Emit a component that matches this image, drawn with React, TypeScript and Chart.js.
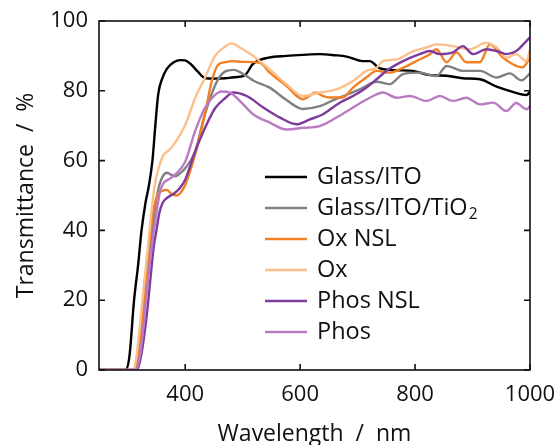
import React, { useEffect, useRef } from "react";
import { Chart, registerables } from "chart.js";

Chart.register(...registerables);

// ---------- data (wavelength in nm, transmittance in %) ----------
const glassItoNm = [250, 296, 303, 311, 318, 324, 331, 337, 343, 348, 353, 360, 368, 380, 392, 400, 410, 422, 435, 450, 470, 481, 504, 518, 545, 576, 605, 634, 660, 681, 709, 721, 739, 768, 796, 826, 855, 883, 913, 942, 970, 994, 1000];
const glassItoT = [0, 0, 4, 20, 30, 40, 48, 53, 60, 70, 79, 83.5, 86.3, 88.2, 88.8, 88.7, 87.6, 85.5, 83.6, 83.5, 83.6, 83.8, 84.5, 87.7, 89.5, 90, 90.3, 90.5, 90.2, 89.8, 88.5, 88.5, 86.4, 85.9, 85.7, 84.5, 84.3, 83.6, 83.3, 81.2, 79.7, 78.8, 79.7];

const glassItoTiO2Nm = [250, 312, 318, 325, 331, 337, 343, 349, 355, 361, 368, 375, 383, 392, 400, 417, 434, 455, 469, 484, 504, 520, 547, 575, 605, 634, 660, 680, 705, 733, 756, 779, 808, 837, 855, 883, 913, 942, 965, 985, 1000];
const glassItoTiO2T = [0, 0, 4, 12, 20, 30, 40, 48, 53, 55.5, 56.5, 56, 55.5, 56.5, 57.8, 62.5, 73.1, 82.6, 85.5, 86, 84.5, 82.8, 80.9, 77.5, 74.8, 75.6, 77.5, 78.8, 80.5, 82.6, 81.9, 84.8, 85.2, 84.2, 87.1, 85.7, 85.7, 83.8, 85, 83, 85];

const oxNslNm = [250, 310, 316, 322, 328, 334, 340, 346, 353, 360, 368, 376, 385, 392, 400, 417, 434, 446, 457, 470, 481, 500, 530, 547, 576, 605, 616, 627, 640, 651, 674, 692, 715, 733, 756, 779, 802, 826, 837, 855, 872, 889, 913, 930, 953, 970, 987, 1000];
const oxNslT = [0, 0, 3, 10, 20, 30, 40, 47, 50.5, 51.3, 51.6, 50.5, 50, 50.8, 53, 61.6, 73.1, 82.6, 87.4, 88.2, 88.5, 88.3, 88, 85.2, 81.4, 77.6, 78.5, 79.5, 78.5, 78.1, 78.1, 80.9, 83.8, 85.7, 85.2, 86.6, 88.5, 90.5, 91.9, 88.2, 91, 88.2, 88.2, 93.3, 89.5, 87.6, 86.7, 89.5];

const oxNm = [250, 310, 316, 322, 328, 335, 341, 347, 354, 362, 372, 382, 400, 417, 434, 452, 468, 481, 495, 518, 547, 576, 605, 634, 663, 692, 715, 733, 744, 768, 797, 820, 837, 866, 895, 924, 942, 959, 976, 994, 1000];
const oxT = [0, 0, 5, 14, 24, 35, 45, 53, 58, 61.5, 63, 65, 70.2, 77.8, 83.6, 90, 92.5, 93.6, 92.4, 90, 86.1, 81.9, 78.5, 79.5, 80.4, 82.8, 85.7, 86.6, 88.5, 89, 91.4, 92.4, 93.3, 92.8, 91.9, 93.8, 92.4, 89.5, 90.5, 88.5, 91.9];

const phosNslNm = [250, 316, 322, 328, 334, 340, 345, 350, 355, 361, 370, 380, 390, 400, 417, 434, 452, 469, 484, 507, 536, 565, 594, 617, 640, 669, 692, 715, 733, 750, 779, 808, 826, 843, 866, 883, 901, 924, 942, 959, 976, 994, 1000];
const phosNslT = [0, 0, 3, 9, 17, 27, 35, 40, 45, 48, 49.5, 50.5, 52, 54.5, 62.5, 69.2, 75, 77.8, 79.5, 78.5, 75.2, 72.3, 70.4, 71.8, 73.3, 76.6, 78.5, 80.9, 83.3, 85.7, 88.5, 90.5, 91.4, 90.5, 91, 92.8, 90.5, 91.9, 91.4, 90.5, 91.4, 94.3, 95.3];

const phosNm = [250, 314, 320, 326, 332, 338, 344, 350, 356, 362, 370, 382, 400, 417, 434, 452, 463, 478, 501, 518, 547, 576, 605, 634, 663, 692, 721, 744, 768, 791, 820, 843, 866, 889, 913, 936, 959, 976, 994, 1000];
const phosT = [0, 0, 3, 10, 20, 30, 38, 45, 51, 53.5, 54.5, 55.9, 59.7, 68.3, 75, 78.8, 79.8, 79.5, 76.1, 73.3, 70.9, 68.9, 69.4, 69.9, 72.3, 75.2, 78, 79.5, 78, 78.5, 77.1, 78.5, 77.1, 78, 76.1, 76.6, 74.2, 76.5, 74.7, 75.6];

const seriesNames = ["Glass/ITO", "Glass/ITO/TiO", "Ox NSL", "Ox", "Phos NSL", "Phos"];
const seriesSub = ["", "2", "", "", "", ""];
const seriesColors = ["#000000", "#808080", "#f28022", "#fbbf8c", "#7f3b9b", "#bb7bc4"];
const seriesNm = [glassItoNm, glassItoTiO2Nm, oxNslNm, oxNm, phosNslNm, phosNm];
const seriesT = [glassItoT, glassItoTiO2T, oxNslT, oxT, phosNslT, phosT];

const xTicks = [400, 600, 800, 1000];
const yTicks = [0, 20, 40, 60, 80, 100];
const xTitle = "Wavelength  /  nm";
const yTitle = "Transmittance  /  %";

const FONT = "'Open Sans', 'DejaVu Sans', sans-serif";

const decorPlugin = {
  id: "decor",
  afterDraw(chart: any) {
    const { ctx, chartArea } = chart;
    const { left, right, top, bottom } = chartArea;
    const xs = chart.scales.x;
    const ys = chart.scales.y;
    ctx.save();
    // frame
    ctx.strokeStyle = "#111";
    ctx.lineWidth = 1.6;
    ctx.strokeRect(left, top, right - left, bottom - top);
    // inward ticks
    const tl = 6;
    ctx.beginPath();
    xTicks.forEach((v) => {
      const px = xs.getPixelForValue(v);
      ctx.moveTo(px, bottom);
      ctx.lineTo(px, bottom - tl);
      ctx.moveTo(px, top);
      ctx.lineTo(px, top + tl);
    });
    yTicks.forEach((v) => {
      const py = ys.getPixelForValue(v);
      ctx.moveTo(left, py);
      ctx.lineTo(left + tl, py);
      ctx.moveTo(right, py);
      ctx.lineTo(right - tl, py);
    });
    ctx.stroke();

    // axis titles
    ctx.fillStyle = "#111";
    ctx.font = `23px ${FONT}`;
    ctx.textAlign = "center";
    ctx.textBaseline = "alphabetic";
    ctx.fillText(xTitle, (left + right) / 2, 441);
    ctx.save();
    ctx.translate(33, (top + bottom) / 2);
    ctx.rotate(-Math.PI / 2);
    ctx.fillText(yTitle, 0, 0);
    ctx.restore();

    // legend
    const lx0 = left + 166;
    const lx1 = lx0 + 42;
    const tx = lx1 + 10;
    const y0 = top + 156;
    const dy = 31;
    ctx.textAlign = "left";
    ctx.textBaseline = "middle";
    seriesNames.forEach((name, i) => {
      const y = y0 + i * dy;
      ctx.strokeStyle = seriesColors[i];
      ctx.lineWidth = 2.5;
      ctx.beginPath();
      ctx.moveTo(lx0, y);
      ctx.lineTo(lx1, y);
      ctx.stroke();
      ctx.fillStyle = "#111";
      ctx.font = `23.5px ${FONT}`;
      ctx.fillText(name, tx, y);
      if (seriesSub[i]) {
        const w = ctx.measureText(name).width;
        ctx.font = `15.5px ${FONT}`;
        ctx.fillText(seriesSub[i], tx + w + 1, y + 7);
      }
    });
    ctx.restore();
  },
};

export default function App() {
  const ref = useRef<HTMLCanvasElement | null>(null);
  useEffect(() => {
    if (!ref.current) return;
    const n = seriesNames.length;
    const datasets = seriesNames.map((name, i) => ({
      label: name + (seriesSub[i] ? "₂" : ""),
      data: seriesNm[i].map((x, k) => ({ x, y: seriesT[i][k] })),
      borderColor: seriesColors[i],
      backgroundColor: seriesColors[i],
      borderWidth: 2.4,
      pointRadius: 0,
      tension: 0.35,
      cubicInterpolationMode: "monotone" as const,
      order: n - i,
    }));
    const chart = new Chart(ref.current, {
      type: "line",
      data: { datasets },
      options: {
        responsive: false,
        animation: false,
        layout: { padding: { top: 21, right: 28, left: 0, bottom: 0 } },
        plugins: { legend: { display: false }, tooltip: { enabled: false } },
        scales: {
          x: {
            type: "linear",
            min: 250,
            max: 1000,
            grid: { display: false, drawTicks: false },
            border: { display: false },
            afterBuildTicks: (s: any) => {
              s.ticks = xTicks.map((v) => ({ value: v }));
            },
            afterFit: (s: any) => {
              s.height = 75;
              s.paddingLeft = 0;
              s.paddingRight = 0;
            },
            ticks: {
              autoSkip: false,
              maxRotation: 0,
              padding: 12,
              color: "#111",
              font: { size: 22, family: FONT },
              callback: (v: any) => String(v),
            },
          },
          y: {
            type: "linear",
            min: 0,
            max: 100,
            grid: { display: false, drawTicks: false },
            border: { display: false },
            afterBuildTicks: (s: any) => {
              s.ticks = yTicks.map((v) => ({ value: v }));
            },
            afterFit: (s: any) => {
              s.width = 99;
              s.paddingTop = 0;
              s.paddingBottom = 0;
            },
            ticks: {
              padding: 11,
              color: "#111",
              font: { size: 22, family: FONT },
              callback: (v: any) => String(v),
            },
          },
        },
      },
      plugins: [decorPlugin],
    });
    return () => chart.destroy();
  }, []);
  return (
    <div style={{ position: "absolute", left: 0, top: 0, width: 558, height: 445 }}>
      <canvas ref={ref} width={558} height={445} />
    </div>
  );
}
